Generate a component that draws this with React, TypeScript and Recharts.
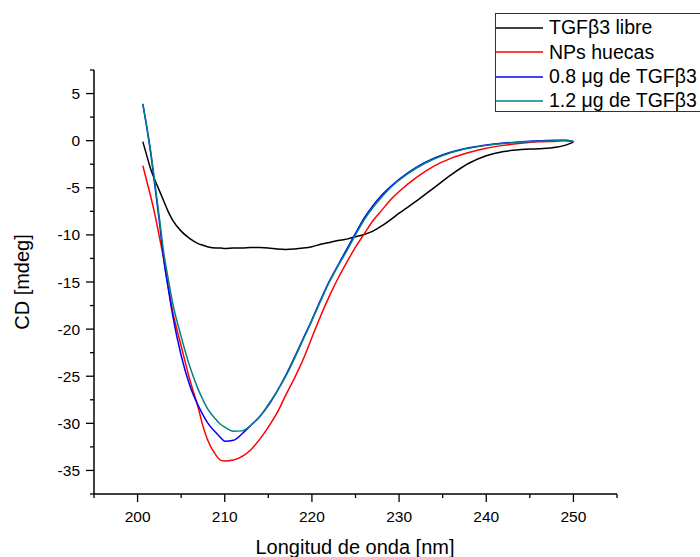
import { LineChart, Line, XAxis, YAxis, Legend, Label } from "recharts";

const FONT = "'Liberation Sans', Arial, sans-serif";

// wavelength (nm)
const WAVELENGTH = [
  200.6, 201, 201.5, 202, 202.5, 203, 203.5, 204, 205, 206, 207, 207.5, 208, 209, 209.5, 210,
  211, 212, 213, 214, 215, 216, 217, 218, 219, 220, 221, 222, 223, 224, 225, 226, 227, 228,
  229, 230, 232, 234, 236, 238, 240, 242, 244, 246, 248, 249, 250,
];

// CD [mdeg]
const TGF_LIBRE = [
  -0.1, -1.4, -3.0, -4.2, -5.3, -6.4, -7.5, -8.4, -9.6, -10.4, -10.95, -11.1, -11.25, -11.4, -11.4, -11.45,
  -11.4, -11.4, -11.35, -11.35, -11.4, -11.5, -11.55, -11.5, -11.4, -11.25, -11.0, -10.8, -10.6, -10.45, -10.2, -9.95, -9.6, -9.05,
  -8.4, -7.7, -6.4, -5.0, -3.6, -2.4, -1.6, -1.15, -0.95, -0.85, -0.7, -0.5, -0.15,
];
const NPS_HUECAS = [
  -2.65, -4.1, -5.9, -7.9, -10.2, -12.6, -15.4, -18.0, -21.8, -25.4, -28.5, -30.3, -31.7, -33.4, -33.9, -34.0,
  -33.9, -33.5, -32.8, -31.7, -30.4, -28.9, -27.0, -25.2, -23.2, -20.9, -18.6, -16.5, -14.6, -12.9, -11.3, -9.9, -8.5, -7.4,
  -6.3, -5.4, -3.9, -2.7, -1.85, -1.25, -0.8, -0.5, -0.28, -0.12, -0.05, 0.0, -0.1,
];
const TGF_08 = [
  3.9, 1.7, -1.3, -4.9, -8.6, -12.6, -15.6, -18.4, -22.8, -26.0, -28.2, -29.1, -29.9, -31.0, -31.5, -31.9,
  -31.8, -31.1, -30.2, -29.3, -28.1, -26.6, -24.9, -23.0, -21.0, -19.0, -16.9, -14.9, -13.2, -11.5, -9.85, -8.2, -6.9, -5.8,
  -4.9, -4.1, -2.8, -1.85, -1.2, -0.75, -0.45, -0.25, -0.12, -0.02, 0.05, 0.05, -0.1,
];
const TGF_12 = [
  3.9, 1.8, -1.1, -4.6, -8.2, -11.9, -14.6, -17.1, -20.8, -24.0, -26.5, -27.5, -28.4, -29.6, -30.1, -30.4,
  -30.85, -30.8, -30.2, -29.3, -28.0, -26.6, -25.0, -23.1, -21.1, -19.1, -17.0, -15.0, -13.3, -11.7, -10.0, -8.4, -7.1, -6.0,
  -5.0, -4.2, -2.9, -1.95, -1.25, -0.8, -0.5, -0.3, -0.15, -0.05, 0.0, 0.05, -0.1,
];

const X_TICKS = [195, 200, 205, 210, 215, 220, 225, 230, 235, 240, 245, 250, 255];
const Y_TICKS = [7.5, 5, 2.5, 0, -2.5, -5, -7.5, -10, -12.5, -15, -17.5, -20, -22.5, -25, -27.5, -30, -32.5, -35, -37.5];

// legend order as in the original figure
const SERIES_ORDER = ["libre", "huecas", "t08", "t12"];

const data = WAVELENGTH.map((x, i) => ({
  x,
  libre: TGF_LIBRE[i],
  huecas: NPS_HUECAS[i],
  t08: TGF_08[i],
  t12: TGF_12[i],
}));

function XTick({ x, y, payload }: any) {
  const major = payload.value % 10 === 0;
  return (
    <g>
      <line x1={x} x2={x} y1={y} y2={y + (major ? 8 : 4)} stroke="#000" strokeWidth={1.3} />
      {major && (
        <text x={x} y={y + 27.5} textAnchor="middle" fontSize={15.5} fontFamily={FONT} fill="#000">
          {payload.value}
        </text>
      )}
    </g>
  );
}

function YTick({ x, y, payload }: any) {
  const major = payload.value % 5 === 0;
  return (
    <g>
      <line x1={x} x2={x - (major ? 8 : 4)} y1={y} y2={y} stroke="#000" strokeWidth={1.3} />
      {major && (
        <text x={x - 14} y={y + 5.5} textAnchor="end" fontSize={15.5} fontFamily={FONT} fill="#000">
          {payload.value}
        </text>
      )}
    </g>
  );
}

function renderLegend(props: any) {
  const items = [...(props.payload || [])].sort(
    (a: any, b: any) => SERIES_ORDER.indexOf(a.dataKey) - SERIES_ORDER.indexOf(b.dataKey)
  );
  return (
    <div
      style={{
        width: 215,
        height: 99,
        boxSizing: "border-box",
        border: "1px solid #333",
        background: "#fff",
        paddingTop: 2,
        fontFamily: FONT,
        fontSize: 19.5,
        color: "#000",
      }}
    >
      {items.map((e: any) => (
        <div key={e.value} style={{ display: "flex", alignItems: "center", height: 24.3, whiteSpace: "nowrap" }}>
          <svg width={53} height={4} style={{ flex: "none" }}>
            <line x1={0} x2={47} y1={2} y2={2} stroke={e.color} strokeWidth={1.5} />
          </svg>
          <span style={{ lineHeight: 1 }}>{e.value}</span>
        </div>
      ))}
    </div>
  );
}

export default function App() {
  return (
    <div style={{ position: "absolute", left: 0, top: 0, background: "#fff" }}>
      <LineChart width={700} height={557} data={data} margin={{ top: 70, right: 83, bottom: 0, left: 0 }}>
        <XAxis
          dataKey="x"
          type="number"
          domain={[195, 255]}
          ticks={X_TICKS}
          interval={0}
          height={63}
          tickSize={0}
          tickMargin={0}
          tickLine={false}
          axisLine={{ stroke: "#000", strokeWidth: 1.5 }}
          tick={<XTick />}
        >
          <Label
            content={() => (
              <text x={355} y={554} textAnchor="middle" fontSize={20} fontFamily={FONT} fill="#000">
                Longitud de onda [nm]
              </text>
            )}
          />
        </XAxis>
        <YAxis
          type="number"
          domain={[-37.5, 7.5]}
          ticks={Y_TICKS}
          interval={0}
          width={94}
          tickSize={0}
          tickMargin={0}
          tickLine={false}
          axisLine={{ stroke: "#000", strokeWidth: 1.5 }}
          tick={<YTick />}
          allowDataOverflow
        >
          <Label
            content={() => (
              <text
                x={29}
                y={282}
                textAnchor="middle"
                fontSize={20}
                fontFamily={FONT}
                fill="#000"
                transform="rotate(-90 29 282)"
              >
                CD [mdeg]
              </text>
            )}
          />
        </YAxis>
        <Legend
          layout="vertical"
          align="center"
          verticalAlign="middle"
          content={renderLegend}
          wrapperStyle={{ position: "absolute", top: 13, left: 495, width: 215, height: 99 }}
        />
        <Line type="monotone" dataKey="libre" name="TGFβ3 libre" stroke="#000000" strokeWidth={1.5} dot={false} activeDot={false} isAnimationActive={false} />
        <Line type="monotone" dataKey="huecas" name="NPs huecas" stroke="#ff0000" strokeWidth={1.5} dot={false} activeDot={false} isAnimationActive={false} />
        <Line type="monotone" dataKey="t08" name="0.8 μg de TGFβ3" stroke="#0000ff" strokeWidth={1.5} dot={false} activeDot={false} isAnimationActive={false} />
        <Line type="monotone" dataKey="t12" name="1.2 μg de TGFβ3" stroke="#008080" strokeWidth={1.5} dot={false} activeDot={false} isAnimationActive={false} />
      </LineChart>
    </div>
  );
}
